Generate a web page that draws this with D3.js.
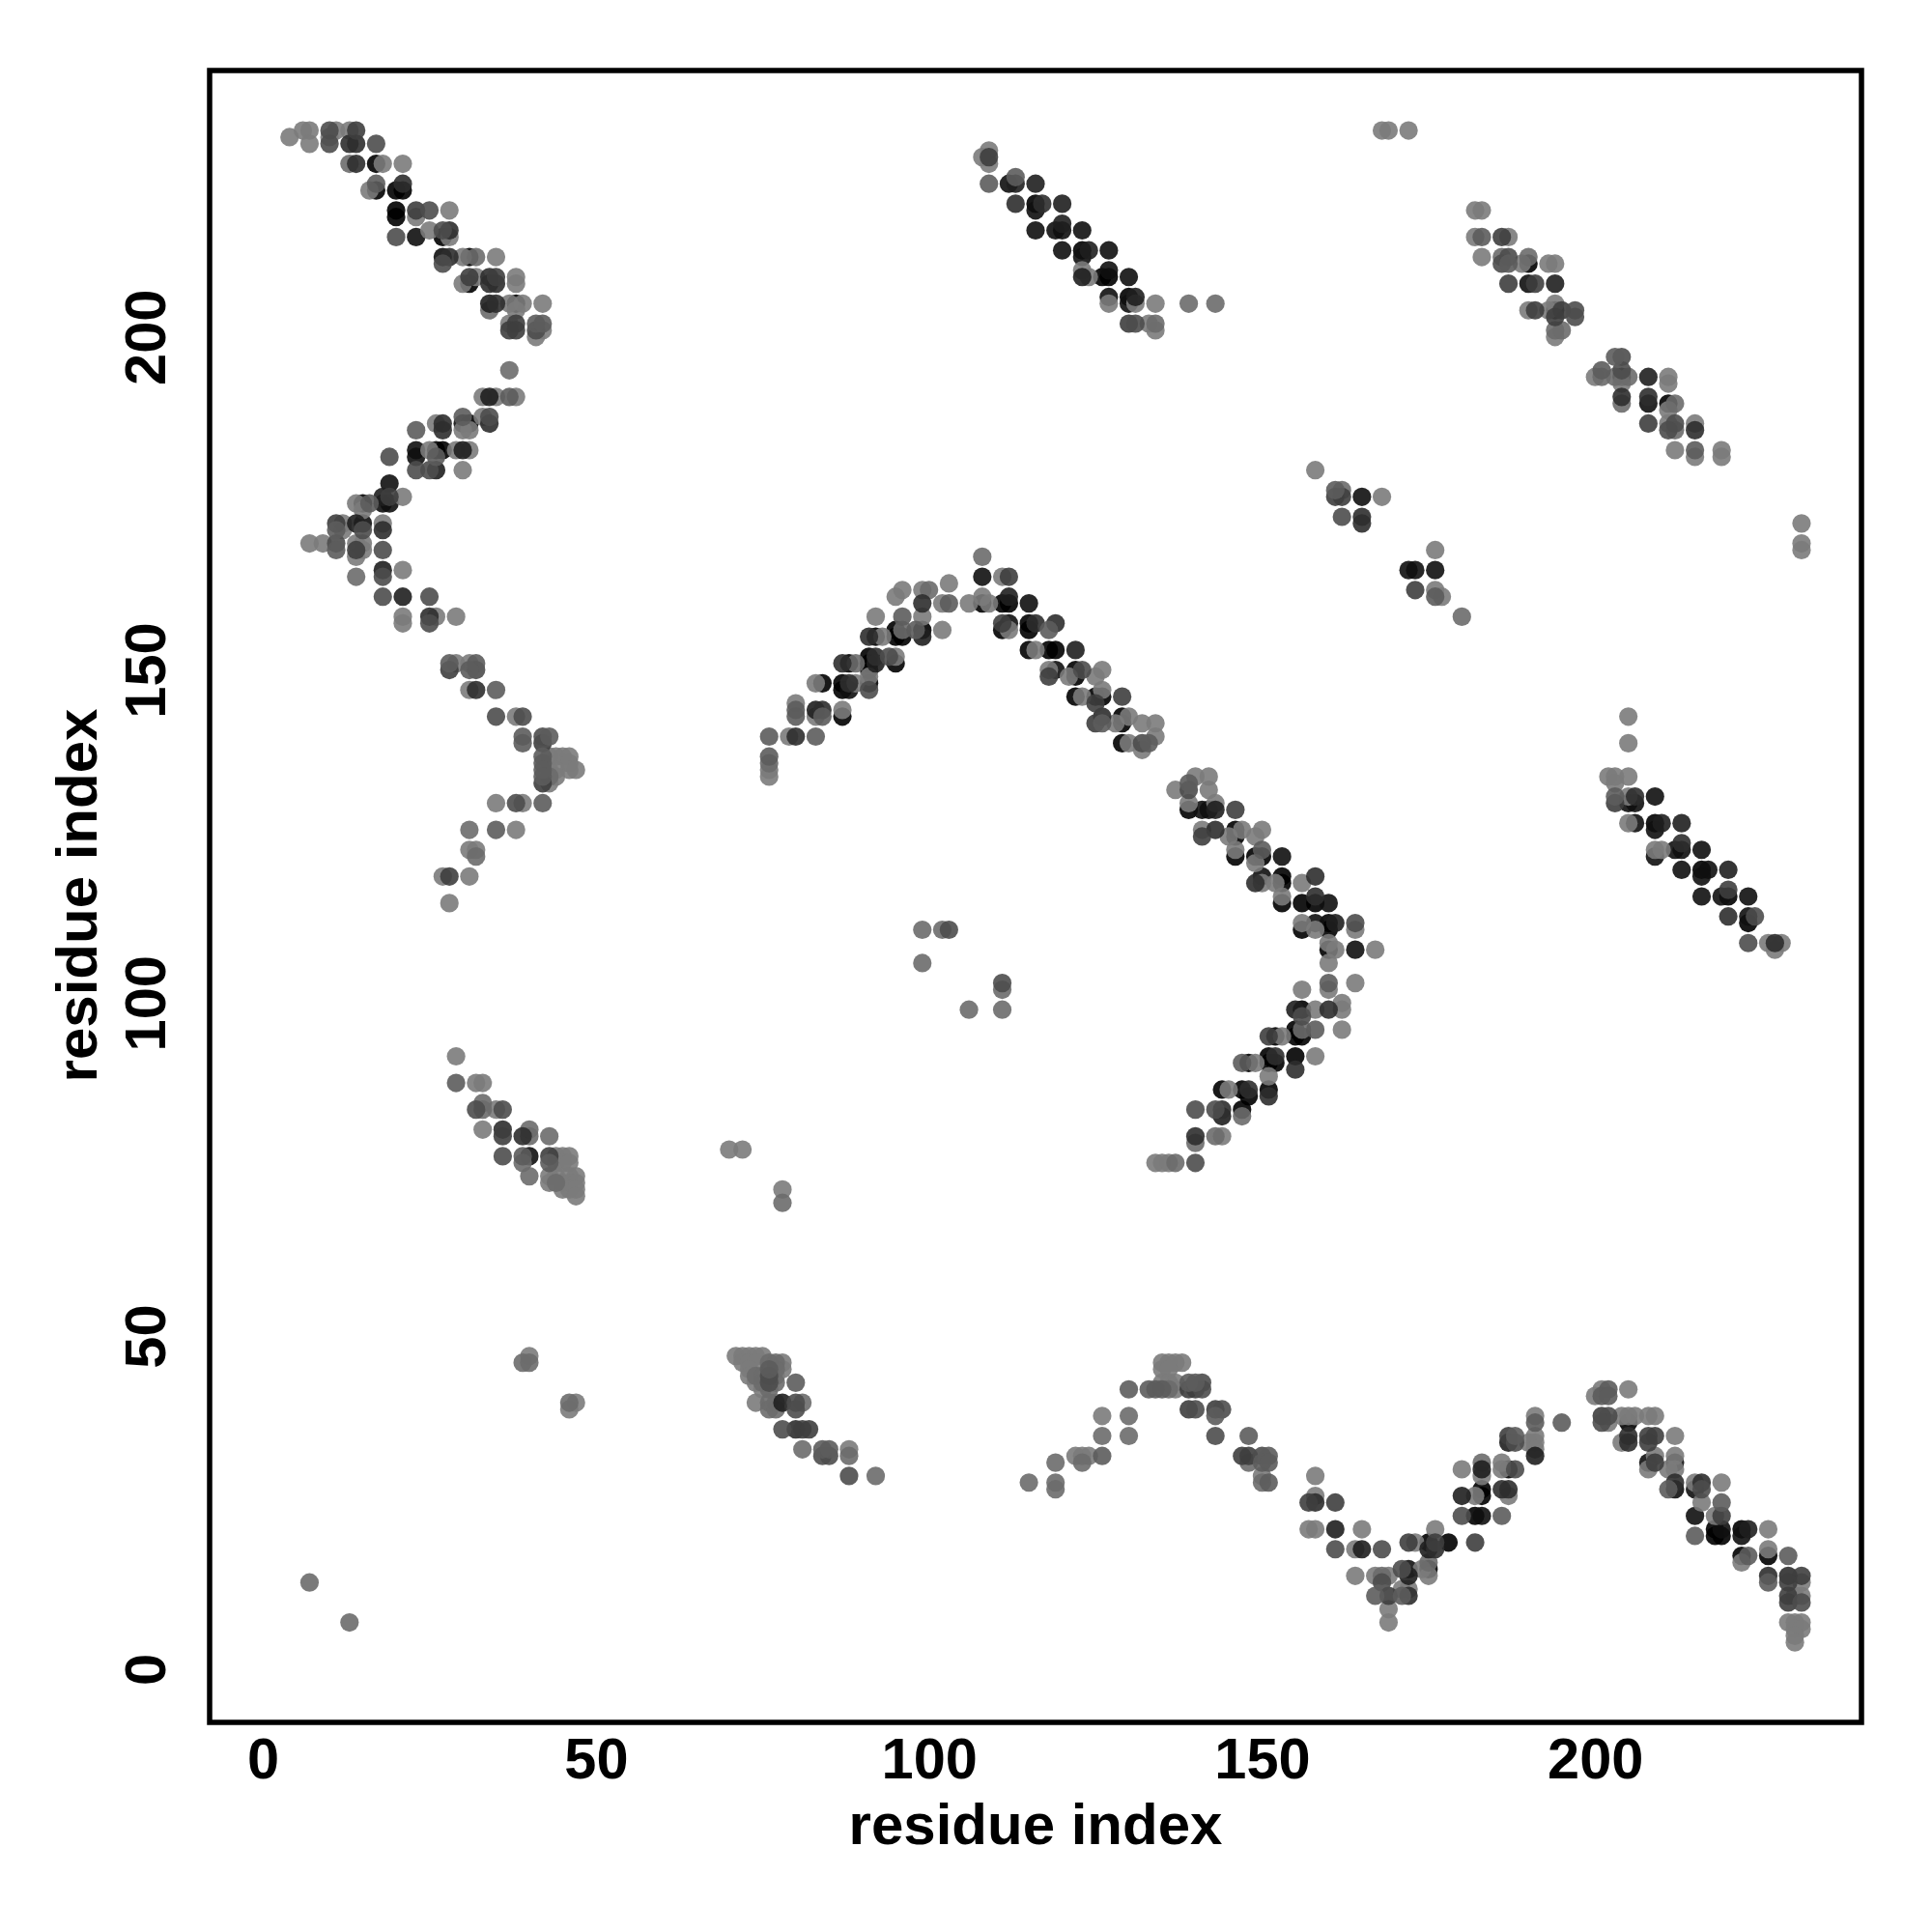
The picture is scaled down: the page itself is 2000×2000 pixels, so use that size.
<!DOCTYPE html>
<html><head><meta charset="utf-8">
<script src="https://cdnjs.cloudflare.com/ajax/libs/d3/7.8.5/d3.min.js"></script>
<style>html,body{margin:0;background:#fff}</style></head><body>
<div id="chart"></div>
<script>
// each contact: [residue i, residue j, strength 0..8]
const clusterTopLeft=[[6,231,0],[7,231,0],[10,231,3],[11,231,0],[13,231,0],[14,231,4],[4,230,0],[10,230,0],[7,229,0],[10,229,3],[13,229,5],[14,229,5],[17,229,3],[13,226,1],[14,226,5],[17,226,8],[18,226,0],[21,226,0],[17,223,2],[21,223,5],[16,222,0],[17,222,8],[20,222,8],[21,222,8],[20,219,8],[23,219,4],[25,219,3],[28,219,0],[20,218,8],[23,218,0],[25,216,0],[27,216,3],[28,216,5],[20,215,3],[23,215,7],[27,215,8],[28,215,0],[27,212,7],[28,212,5],[30,212,0],[31,212,8],[32,212,1],[35,212,0],[27,211,3],[31,209,4],[32,209,0],[34,209,5],[35,209,4],[38,209,0],[30,208,0],[31,208,8],[34,208,5],[35,208,5],[38,208,0],[34,205,6],[35,205,5],[37,205,0],[38,205,8],[39,205,0],[42,205,0],[34,204,1],[38,204,0],[37,202,0],[38,202,4],[41,202,2],[42,202,2],[37,201,4],[38,201,4],[41,201,3],[42,201,0],[41,200,0],[37,195,1]];
const clusterLeftUpper=[[33,191,0],[34,191,6],[35,191,0],[37,191,2],[38,191,0],[30,188,2],[34,188,3],[33,188,0],[27,187,5],[26,187,0],[30,187,7],[31,187,8],[34,187,5],[23,186,2],[27,186,5],[30,186,0],[31,186,0],[23,183,7],[25,183,0],[26,183,8],[27,183,8],[29,183,0],[30,183,6],[31,183,0],[19,182,3],[23,182,7],[26,182,2],[23,180,3],[25,180,3],[26,180,6],[30,180,0],[19,178,7],[18,176,6],[19,176,4],[21,176,0],[14,175,0],[15,175,8],[16,175,2],[18,175,7],[19,175,7],[15,174,0],[11,172,4],[12,172,0],[14,172,6],[15,172,7],[18,172,0],[11,171,2],[12,171,0],[15,171,3],[18,171,5],[7,169,0],[9,169,0],[11,169,3],[14,169,0],[15,169,0],[11,168,2],[14,168,4],[15,168,0],[18,168,3],[14,167,0],[18,165,6],[21,165,0],[14,164,1],[18,164,3],[18,161,3],[21,161,6],[25,161,3],[21,158,0],[25,158,5],[26,158,0],[29,158,0],[21,157,0],[25,157,3]];
const clusterLeftMiddle=[[28,151,2],[29,151,0],[31,151,0],[32,151,2],[28,150,4],[31,150,2],[32,150,3],[31,147,0],[32,147,5],[35,147,2],[35,143,3],[38,143,0],[39,143,3],[39,140,2],[42,140,3],[43,140,2],[39,139,2],[42,139,4],[42,137,2],[43,137,0],[44,137,0],[45,137,0],[46,137,0],[42,136,2],[46,136,0],[42,135,2],[43,135,0],[44,135,0],[46,135,0],[47,135,0],[42,134,2],[43,134,1],[44,134,0],[42,133,4],[43,133,0],[35,130,0],[38,130,3],[39,130,0],[42,130,2],[31,126,1],[35,126,2],[38,126,0],[31,123,0],[32,123,0],[32,122,1],[27,119,0],[28,119,4],[31,119,0],[28,115,0]];
const clusterLeftLower=[[29,92,0],[29,88,2],[32,88,0],[33,88,0],[33,85,1],[32,84,3],[33,84,1],[35,84,0],[36,84,3],[33,81,0],[36,81,5],[36,80,4],[39,80,5],[40,80,1],[40,81,1],[43,80,1],[36,77,3],[39,77,2],[40,77,7],[43,77,4],[44,77,0],[45,77,0],[46,77,0],[39,76,1],[43,76,2],[44,76,0],[45,76,0],[46,76,0],[40,74,1],[43,74,0],[44,74,0],[46,74,0],[47,74,0],[43,73,0],[44,73,1],[45,73,0],[46,73,0],[47,73,0],[45,72,0],[46,72,0],[47,72,0],[47,71,0]];
const clusterArc=[[108,167,1],[95,161,0],[108,164,7],[111,164,0],[112,164,4],[103,163,0],[96,162,0],[99,162,0],[100,162,1],[112,161,6],[108,161,0],[99,160,5],[102,160,0],[103,160,2],[106,160,0],[108,160,8],[109,160,0],[111,160,8],[112,160,8],[115,160,7],[92,158,0],[96,158,2],[99,158,0],[111,157,4],[112,157,7],[115,157,8],[116,157,5],[119,157,5],[95,156,8],[96,156,1],[98,156,2],[99,156,8],[102,156,0],[118,156,2],[111,156,8],[112,156,0],[115,156,8],[91,155,5],[92,155,8],[93,155,0],[95,155,8],[96,155,8],[99,155,6],[115,153,8],[116,153,0],[118,153,8],[119,153,8],[122,153,6],[91,152,8],[92,152,5],[94,152,3],[95,152,0],[87,151,5],[88,151,8],[89,151,1],[91,151,8],[92,151,6],[95,151,8],[91,150,8],[119,150,7],[118,150,0],[122,150,8],[123,150,3],[126,150,0],[118,149,4],[122,149,8],[121,149,0],[125,149,0],[91,149,0],[84,148,8],[83,148,0],[87,148,8],[88,148,5],[91,148,8],[89,148,0],[87,147,8],[88,147,7],[91,147,3],[126,147,0],[122,146,8],[123,146,0],[125,146,8],[126,146,8],[129,146,4],[80,145,0],[125,145,4],[83,144,6],[84,144,5],[87,144,0],[80,144,2],[80,143,2],[87,143,8],[83,143,0],[84,143,2],[126,143,5],[129,143,8],[130,143,0],[125,142,4],[126,142,2],[128,142,0],[129,142,8],[132,142,0],[134,142,0],[76,140,2],[79,140,0],[80,140,5],[83,140,2],[134,140,0],[129,139,8],[130,139,0],[132,139,3],[133,139,2],[132,138,0],[76,137,2],[76,136,1],[76,135,0],[76,134,0]];
const clusterCentreRight=[[140,134,0],[142,134,0],[139,133,2],[137,132,0],[139,132,3],[142,132,0],[139,130,0],[143,130,0],[139,129,8],[141,129,7],[142,129,7],[143,129,6],[146,129,4],[141,126,0],[143,126,5],[146,126,8],[147,126,0],[150,126,0],[141,125,4],[145,125,0],[146,125,8],[149,125,0],[146,123,0],[150,123,2],[146,122,8],[149,122,8],[150,122,8],[153,122,7],[149,121,0],[150,119,7],[153,119,8],[158,119,5],[149,118,5],[150,118,0],[152,118,0],[153,118,8],[156,118,0],[153,116,0],[158,116,5],[153,115,8],[156,115,8],[158,115,8],[160,115,7],[156,112,0],[158,112,7],[160,112,8],[161,112,6],[164,112,3],[156,111,8],[158,111,0],[160,111,8],[164,111,0],[160,109,0],[160,108,8],[161,108,0],[164,108,7],[167,108,0],[160,106,0],[160,103,2],[164,103,0],[156,102,0],[160,102,0],[162,100,0],[155,99,6],[156,99,8],[158,99,0],[160,99,5],[162,99,0],[156,98,3],[158,96,2],[156,96,1],[155,96,8],[162,96,0],[151,95,4],[152,95,8],[153,95,0],[155,95,8],[156,95,8],[158,92,0],[151,92,8],[152,92,5],[155,92,8],[147,91,2],[148,91,8],[149,91,0],[151,91,8],[152,91,8],[155,90,5],[151,89,0],[144,87,8],[145,87,0],[147,87,8],[148,87,5],[151,87,8],[148,86,8],[151,86,5],[140,84,3],[143,84,3],[144,84,5],[147,84,8],[144,83,6],[147,83,1],[140,80,5],[143,80,1],[144,80,0],[140,79,1],[134,76,0],[135,76,0],[136,76,0],[137,76,1],[140,76,3]];
const clusterTopMiddle=[[109,228,0],[108,227,0],[109,227,4],[109,226,0],[113,224,2],[109,223,2],[112,223,7],[113,223,6],[116,223,6],[113,220,5],[116,220,8],[117,220,5],[120,220,6],[116,219,7],[120,217,6],[116,216,7],[119,216,7],[120,216,7],[123,216,7],[120,213,7],[123,213,8],[124,213,6],[127,213,7],[123,212,7],[123,210,0],[127,210,7],[123,209,6],[124,209,0],[126,209,8],[127,209,8],[130,209,7],[127,206,7],[130,206,8],[131,206,6],[127,205,0],[130,205,7],[131,205,0],[134,205,0],[139,205,1],[143,205,1],[130,202,4],[131,202,3],[133,202,0],[134,202,1],[134,201,0]];
const clusterTopRight=[[168,231,0],[169,231,0],[172,231,0],[182,219,0],[183,219,0],[182,215,0],[183,215,2],[186,215,4],[187,215,0],[183,212,0],[186,212,1],[187,212,3],[190,212,1],[186,211,3],[187,211,2],[189,211,0],[190,211,8],[193,211,0],[194,211,0],[187,208,4],[190,208,7],[191,208,4],[194,208,6],[194,205,0],[190,204,0],[191,204,4],[193,204,0],[194,204,8],[195,204,4],[197,204,3],[194,203,4],[197,203,3],[194,201,1],[195,201,1],[194,200,0],[203,197,2],[204,197,3],[201,195,2],[204,195,3],[200,194,0],[201,194,1],[203,194,1],[204,194,8],[205,194,1],[208,194,6],[211,194,0],[204,193,0],[211,193,0],[204,191,5],[208,191,5],[204,190,1],[208,190,7],[211,190,8],[212,190,1],[211,189,0],[208,187,4],[211,187,0],[212,187,3],[215,187,0],[211,186,3],[212,186,1],[215,186,5],[212,183,0],[215,183,2],[219,183,0],[215,182,0],[219,182,0]];
const clusterFarRight=[[158,180,0],[161,177,2],[162,177,1],[161,176,4],[162,176,4],[165,176,7],[168,176,0],[162,173,3],[165,173,5],[165,172,5],[176,168,0],[172,165,7],[173,165,7],[176,165,7],[173,162,4],[176,162,0],[176,161,2],[177,161,0],[180,158,1],[231,172,0],[231,169,0],[231,168,0],[205,143,0],[205,139,0],[202,134,0],[203,134,0],[205,134,0],[203,133,0],[203,131,2],[205,131,0],[206,131,5],[209,131,7],[203,130,4],[205,130,7],[206,130,7],[205,127,0],[206,127,7],[209,127,8],[210,127,6],[213,127,6],[209,126,7],[213,124,5],[209,123,0],[210,123,0],[212,123,7],[213,123,7],[216,123,7],[209,122,7],[213,120,7],[216,120,8],[217,120,7],[220,120,6],[216,119,7],[220,117,4],[216,116,7],[219,116,7],[220,116,8],[223,116,7],[220,113,5],[223,113,7],[224,113,3],[223,112,8],[223,109,3],[226,109,0],[227,109,5],[228,109,0],[227,108,0]];
const clusterIsolated=[[99,111,1],[102,111,1],[103,111,3],[99,106,1],[111,103,3],[111,102,1],[106,99,1],[111,99,1],[40,47,0],[39,46,1],[40,46,1],[47,40,0],[46,40,1],[46,39,0],[70,78,0],[72,78,0],[78,72,0],[78,70,1],[7,13,1],[13,7,1]];
const clusterBottomLeft=[[71,47,0],[72,47,0],[73,47,0],[74,47,0],[75,47,0],[72,46,0],[73,46,0],[74,46,0],[76,46,1],[77,46,1],[78,46,0],[73,45,0],[76,45,2],[77,45,1],[78,45,0],[73,44,0],[74,44,1],[75,44,1],[76,44,3],[77,44,0],[74,43,0],[75,43,1],[76,43,3],[77,43,1],[80,43,2],[75,42,0],[76,42,1],[74,40,0],[76,40,1],[78,40,6],[77,40,0],[80,40,3],[81,40,1],[76,39,1],[77,39,1],[80,39,3],[78,36,3],[80,36,5],[81,36,4],[82,36,4],[81,33,1],[84,33,2],[85,33,2],[88,33,0],[84,32,3],[85,32,3],[88,32,1],[88,29,3],[92,29,1]];
const clusterBottomArc=[[115,28,1],[119,31,1],[119,28,1],[119,27,1],[122,32,0],[123,32,0],[124,32,0],[123,31,1],[126,38,0],[126,35,1],[126,32,2],[130,42,2],[130,38,1],[130,35,1],[135,46,0],[136,46,0],[137,46,0],[138,46,0],[135,45,0],[136,45,0],[135,43,0],[136,43,0],[137,43,0],[139,43,2],[140,43,2],[141,43,3],[133,42,2],[134,42,2],[135,42,2],[136,42,1],[137,42,0],[139,42,4],[140,42,4],[141,42,3],[139,39,4],[140,39,3],[143,39,4],[144,39,3],[143,38,2],[143,35,3],[148,35,2],[147,32,4],[148,32,4],[150,32,3],[151,32,2],[148,31,1],[150,31,2],[151,31,2],[150,29,0],[150,28,1],[151,28,2]];
const clusterBottomRight=[[158,29,0],[157,25,4],[158,26,0],[158,25,5],[161,25,4],[157,21,0],[158,21,0],[161,21,6],[165,21,0],[176,21,0],[172,19,4],[173,19,0],[175,19,8],[176,19,4],[178,19,8],[182,19,4],[161,18,3],[164,18,0],[165,18,6],[168,18,3],[175,18,6],[176,18,5],[175,16,1],[171,15,3],[172,15,7],[174,15,0],[175,15,8],[164,14,0],[167,14,0],[168,14,1],[169,14,0],[172,14,6],[175,14,0],[168,13,3],[171,12,0],[172,12,0],[167,11,2],[169,11,4],[171,11,2],[172,11,5],[169,9,0],[169,7,0],[191,38,0],[191,37,2],[195,37,2],[187,35,4],[188,35,2],[191,35,0],[187,34,6],[188,34,3],[190,34,0],[191,34,0],[191,33,0],[191,32,6],[183,31,1],[186,31,0],[180,30,0],[183,30,6],[186,30,0],[187,30,8],[188,30,3],[183,29,0],[183,27,8],[186,27,5],[187,27,5],[180,26,6],[182,26,0],[183,26,8],[187,26,0],[180,23,3],[182,23,8],[183,23,7],[186,23,2],[201,42,0],[202,42,2],[205,42,0],[200,41,0],[201,41,2],[202,41,2],[201,38,4],[202,38,3],[204,38,0],[205,38,0],[206,38,0],[208,38,0],[209,38,0],[201,37,3],[202,37,0],[205,37,8],[205,35,5],[208,35,4],[209,35,4],[212,35,0],[204,34,0],[205,34,5],[208,34,4],[209,32,0],[212,32,0],[208,31,7],[209,31,4],[212,31,7],[208,30,0],[211,30,0],[212,30,0],[212,28,5],[216,28,5],[215,28,0],[219,28,0],[211,27,2],[212,27,7],[215,27,7],[216,27,3],[216,25,0],[219,25,2],[215,23,7],[218,23,0],[219,23,4],[219,21,7],[218,21,8],[222,21,8],[223,21,6],[226,21,0],[215,20,2],[218,20,8],[219,20,8],[222,20,7],[226,18,0],[222,17,8],[223,17,2],[226,17,8],[229,17,2],[222,16,0],[226,14,5],[229,14,5],[231,14,4],[226,13,2],[229,13,4],[231,13,0],[229,11,4],[230,11,0],[231,11,0],[229,10,4],[231,10,3],[229,7,0],[230,7,0],[231,7,0],[230,6,0],[231,6,0],[230,5,0],[230,4,0]];
const xTicks=[0,50,100,150,200];
const yTicks=[0,50,100,150,200];
const axisLabel="residue index";
// paint order of the strength levels, first drawn to last drawn
const paintOrder=[8,7,0,1,6,5,4,3,2];

const contacts=[].concat(clusterTopLeft,clusterLeftUpper,clusterLeftMiddle,clusterLeftLower,clusterArc,clusterCentreRight,clusterTopMiddle,clusterTopRight,clusterFarRight,clusterIsolated,clusterBottomLeft,clusterBottomArc,clusterBottomRight);

const svg=d3.select("#chart").append("svg").attr("width",2000).attr("height",2000).style("display","block").style("font-family","'Liberation Sans',Arial,sans-serif").style("font-weight","bold");
const x=d3.scaleLinear().domain([-8,240]).range([217,1927]);
const y=d3.scaleLinear().domain([-8,240]).range([1783,73]);
const shade=d3.scaleLinear().domain([0,8]).range(["#7b7b7b","#000000"]);

svg.append("g").selectAll("circle").data(d3.sort(contacts,(a,b)=>paintOrder.indexOf(a[2])-paintOrder.indexOf(b[2]))).join("circle")
  .attr("cx",d=>x(d[0])).attr("cy",d=>y(d[1])).attr("r",9.6).attr("fill",d=>shade(d[2])).attr("fill-opacity",0.9);

svg.append("rect").attr("x",217).attr("y",73).attr("width",1710).attr("height",1710).attr("fill","none").attr("stroke","#000").attr("stroke-width",5.5);

const gx=svg.append("g").attr("transform","translate(0,1783)").call(d3.axisBottom(x).tickValues(xTicks).tickSize(0).tickPadding(0));
gx.select(".domain").remove();
gx.selectAll("text").attr("y",0).attr("dy",0).attr("transform","translate(0,58)").style("font-size","59.5px").attr("fill","#000").style("font-family","inherit");
const gy=svg.append("g").attr("transform","translate(217,0)").call(d3.axisLeft(y).tickValues(yTicks).tickSize(0).tickPadding(0));
gy.select(".domain").remove();
gy.selectAll("text").attr("x",0).attr("dy",0).attr("text-anchor","middle").attr("transform","translate(-46,0) rotate(-90)").style("font-size","59.5px").attr("fill","#000").style("font-family","inherit");
gx.attr("font-size",null);gy.attr("font-size",null);gx.attr("font-family",null);gy.attr("font-family",null);

svg.append("text").attr("x",1072).attr("y",1909).attr("text-anchor","middle").style("font-size","60px").text(axisLabel);
svg.append("text").attr("transform","translate(100,927) rotate(-90)").attr("text-anchor","middle").style("font-size","60px").text(axisLabel);
</script></body></html>
